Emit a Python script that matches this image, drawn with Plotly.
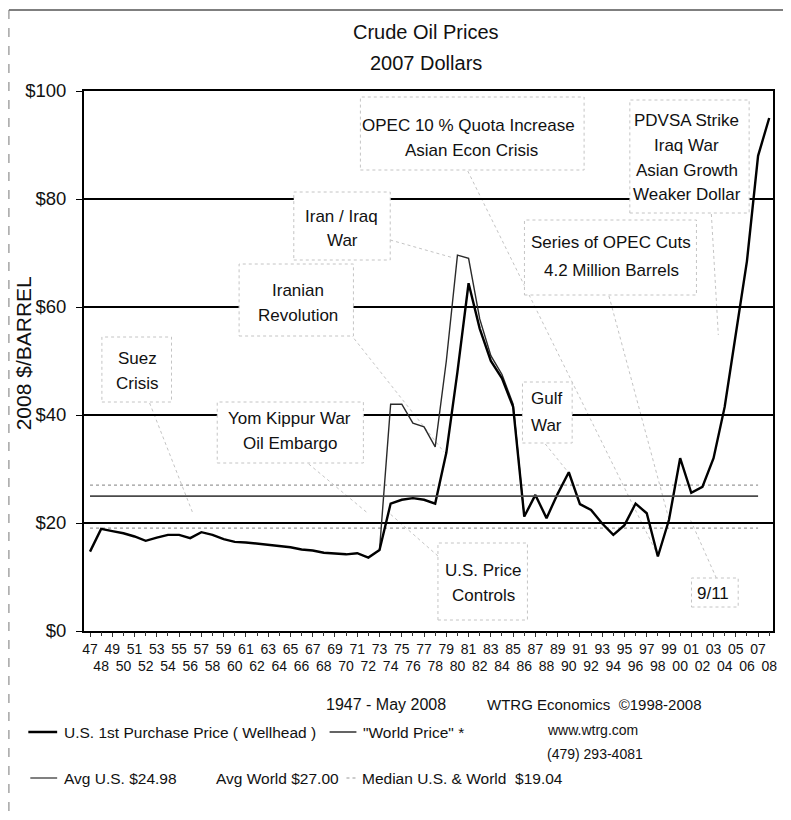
import plotly.graph_objects as go

# ---------------- data ----------------
years = list(range(1947, 2009))
us_price = [14.7, 18.9, 18.5, 18.1, 17.5, 16.7, 17.3, 17.8, 17.8, 17.2,
            18.3, 17.8, 17.0, 16.5, 16.4, 16.2, 16.0, 15.8, 15.5, 15.1,
            14.9, 14.5, 14.3, 14.2, 14.4, 13.6, 15.0, 23.6, 24.3, 24.6,
            24.3, 23.6, 33.0, 48.0, 64.4, 56.0, 50.0, 46.8, 41.5, 21.2,
            25.2, 20.9, 25.4, 29.4, 23.5, 22.4, 19.9, 17.8, 19.6, 23.6,
            21.8, 13.8, 20.6, 32.0, 25.6, 26.7, 32.0, 41.5, 55.0, 68.5,
            88.0, 95.0]
world_years = list(range(1973, 1987))
world_price = [15.0, 42.0, 42.0, 38.5, 37.8, 34.1, 50.0, 69.6, 69.0, 57.8,
               51.0, 47.5, 42.0, 21.2]
avg_us = 24.98
avg_world = 27.00
median_all = 19.04
avg_span = [1947, 2007]

y_ticks = [0, 20, 40, 60, 80, 100]
y_labels = ["$0", "$20", "$40", "$60", "$80", "$100"]
odd_years = [y for y in years if y % 2 == 1]
even_years = [y for y in years if y % 2 == 0]
odd_labels = [str(y)[2:] for y in odd_years]
even_labels = [str(y)[2:] for y in even_years]

# ---------------- layout helpers (page pixel -> paper) ----------------
# page coordinates of the plot area (the html body adds an 8 px margin)
OFF = 8
L, R, T, B = 84, 777, 91, 631
W, H = R - L, B - T
FIG_W, FIG_H = 791 - 2 * OFF, 820 - 2 * OFF


def px(x):
    return (x - L) / W


def py(y):
    return (B - y) / H


FONT = "Liberation Sans, Arial, sans-serif"
NARROW = "Liberation Sans Narrow, Arial Narrow, Liberation Sans, sans-serif"

fig = go.Figure()

fig.add_trace(go.Scatter(x=avg_span, y=[median_all] * 2, mode="lines",
                         line=dict(color="#9a9a9a", width=1.2, dash="dot"),
                         name="Median U.S. & World", showlegend=False, hoverinfo="skip"))
fig.add_trace(go.Scatter(x=avg_span, y=[avg_world] * 2, mode="lines",
                         line=dict(color="#9a9a9a", width=1.2, dash="dot"),
                         name="Avg World", showlegend=False, hoverinfo="skip"))
fig.add_trace(go.Scatter(x=avg_span, y=[avg_us] * 2, mode="lines", xaxis="x2",
                         line=dict(color="#4a4a4a", width=1.6),
                         name="Avg U.S.", showlegend=False, hoverinfo="skip"))
fig.add_trace(go.Scatter(x=world_years, y=world_price, mode="lines",
                         line=dict(color="#2a2a2a", width=1.4),
                         name='"World Price"', showlegend=False))
fig.add_trace(go.Scatter(x=years, y=us_price, mode="lines",
                         line=dict(color="#000000", width=2.4),
                         name="U.S. 1st Purchase Price (Wellhead)", showlegend=False))

shapes = []
annotations = []

# text boxes (faint dotted borders, white fill covering gridlines)
boxes = [
    (102, 337, 172, 402),   # Suez
    (295, 192, 392, 260),   # Iran / Iraq
    (240, 264, 355, 336),   # Iranian Revolution
    (218, 402, 365, 463),   # Yom Kippur
    (362, 97, 587, 170),    # OPEC 10 %
    (633, 100, 753, 213),   # PDVSA
    (527, 220, 700, 295),   # Series of OPEC cuts
    (525, 382, 575, 443),   # Gulf War
    (440, 543, 530, 620),   # U.S. Price Controls
    (695, 578, 742, 607),   # 9/11
]
for x0, y0, x1, y1 in boxes:
    shapes.append(dict(type="rect", xref="paper", yref="paper",
                       x0=px(x0), x1=px(x1), y0=py(y1), y1=py(y0),
                       fillcolor="white", layer="above",
                       line=dict(color="#c4c4c4", width=1, dash="dot")))

# faint dotted leader lines
leaders = [
    (150, 403, 193, 512),
    (310, 464, 368, 512),
    (440, 556, 392, 514),
    (470, 171, 660, 553),
    (612, 296, 672, 518),
    (548, 444, 570, 471),
    (715, 214, 722, 335),
    (720, 578, 694, 520),
    (352, 334, 446, 452),
    (392, 240, 456, 258),
]
for x0, y0, x1, y1 in leaders:
    shapes.append(dict(type="line", xref="paper", yref="paper",
                       x0=px(x0), x1=px(x1), y0=py(y0), y1=py(y1),
                       layer="below", line=dict(color="#c4c4c4", width=1, dash="dot")))

# box texts
box_text = [
    ("OPEC 10 % Quota Increase", 471, 125), ("Asian Econ Crisis", 474, 150),
    ("PDVSA Strike", 690, 120), ("Iraq War", 690, 145),
    ("Asian Growth", 690, 170), ("Weaker Dollar", 690, 195),
    ("Iran / Iraq", 343, 217), ("War", 344, 240),
    ("Series of OPEC Cuts", 614, 243), ("4.2 Million Barrels", 615, 270),
    ("Iranian", 299, 290), ("Revolution", 299, 315),
    ("Suez", 138, 358), ("Crisis", 138, 383),
    ("Yom Kippur War", 291, 418), ("Oil Embargo", 291, 443),
    ("Gulf", 549, 398), ("War", 549, 425),
    ("U.S. Price", 486, 570), ("Controls", 486, 595),
    ("9/11", 717, 593),
]
for txt, cx, cy in box_text:
    annotations.append(dict(xref="paper", yref="paper", x=px(cx), y=py(cy),
                            xanchor="center", yanchor="middle", showarrow=False,
                            text=txt, font=dict(family=FONT, size=17, color="#111")))

# title
for txt, cy in [("Crude Oil Prices", 32), ("2007 Dollars", 63)]:
    annotations.append(dict(xref="paper", yref="paper", x=px(428), y=py(cy),
                            xanchor="center", yanchor="middle", showarrow=False,
                            text=txt, font=dict(family=FONT, size=20, color="#111")))

# y axis title, hugging the left edge
annotations.append(dict(xref="paper", yref="paper", x=px(23), y=py(353),
                        xanchor="center", yanchor="middle", showarrow=False,
                        textangle=-90, text="2008 $/BARREL",
                        font=dict(family=FONT, size=21, color="#111")))

# footer texts
footer = [
    ("1947 - May 2008", 325, 704, 16),
    ("WTRG Economics  ©1998-2008", 487, 704, 15),
    ("U.S. 1st Purchase Price ( Wellhead )", 62, 732, 15.5),
    ('"World Price" *', 363, 732, 15.5),
    ("www.wtrg.com", 548, 730, 14),
    ("(479) 293-4081", 548, 754, 14),
    ("Avg U.S. $24.98", 62, 778, 15.5),
    ("Avg World $27.00", 215, 778, 15.5),
    ("Median U.S. & World  $19.04", 362, 778, 15.5),
]
for txt, x0, cy, fs in footer:
    annotations.append(dict(xref="paper", yref="paper", x=px(x0), y=py(cy),
                            xanchor="left", yanchor="middle", showarrow=False,
                            text=txt, font=dict(family=FONT, size=fs, color="#111")))

# legend line samples
samples = [
    (28, 57, 732, "#000", 2.5, "solid"),
    (331, 358, 732, "#222", 1.4, "solid"),
    (30, 57, 778, "#4a4a4a", 1.4, "solid"),
    (348, 358, 778, "#9a9a9a", 1.2, "dot"),
]
for x0, x1, yy, c, w, d in samples:
    shapes.append(dict(type="line", xref="paper", yref="paper",
                       x0=px(x0), x1=px(x1), y0=py(yy), y1=py(yy),
                       line=dict(color=c, width=w, dash=d)))

# scan frame lines (top rule and left dashed rule)
shapes.append(dict(type="line", xref="paper", yref="paper",
                   x0=px(8.5), x1=px(791), y0=py(10), y1=py(10),
                   line=dict(color="#555", width=1.5)))
shapes.append(dict(type="line", xref="paper", yref="paper",
                   x0=px(8.5), x1=px(8.5), y0=py(10), y1=py(820),
                   line=dict(color="#777", width=1, dash="dash")))

x_range = [1946.46, 2008.34]
fig.update_layout(
    width=FIG_W, height=FIG_H,
    margin=dict(l=L - OFF, r=FIG_W - (R - OFF), t=T - OFF, b=FIG_H - (B - OFF)),
    paper_bgcolor="white", plot_bgcolor="white",
    showlegend=False,
    shapes=shapes, annotations=annotations,
    font=dict(family=FONT, color="#111"),
    xaxis=dict(range=x_range, tickmode="array", tickvals=odd_years,
               ticktext=odd_labels, tickangle=0,
               tickfont=dict(family=NARROW, size=14, color="#111"),
               ticks="outside", ticklen=4, tickcolor="#333",
               showgrid=False, zeroline=False,
               showline=True, linecolor="black", linewidth=2, mirror=True),
    xaxis2=dict(range=x_range, overlaying="x", matches="x", anchor="y",
                side="bottom", tickmode="array", tickvals=even_years,
                ticktext=even_labels, tickangle=0,
                tickfont=dict(family=NARROW, size=14, color="#111"),
                ticks="outside", ticklen=4, tickcolor="#333",
                ticklabelstandoff=18,
                showgrid=False, zeroline=False, showline=False),
    yaxis=dict(range=[0, 100], tickmode="array", tickvals=y_ticks,
               ticktext=y_labels,
               tickfont=dict(family=FONT, size=18.5, color="#111"),
               ticks="outside", ticklen=6, tickcolor="black",
               ticklabelstandoff=6,
               showgrid=True, gridcolor="black", gridwidth=1.5,
               zeroline=False,
               showline=True, linecolor="black", linewidth=2, mirror=True),
)

fig.write_html("out.html")
